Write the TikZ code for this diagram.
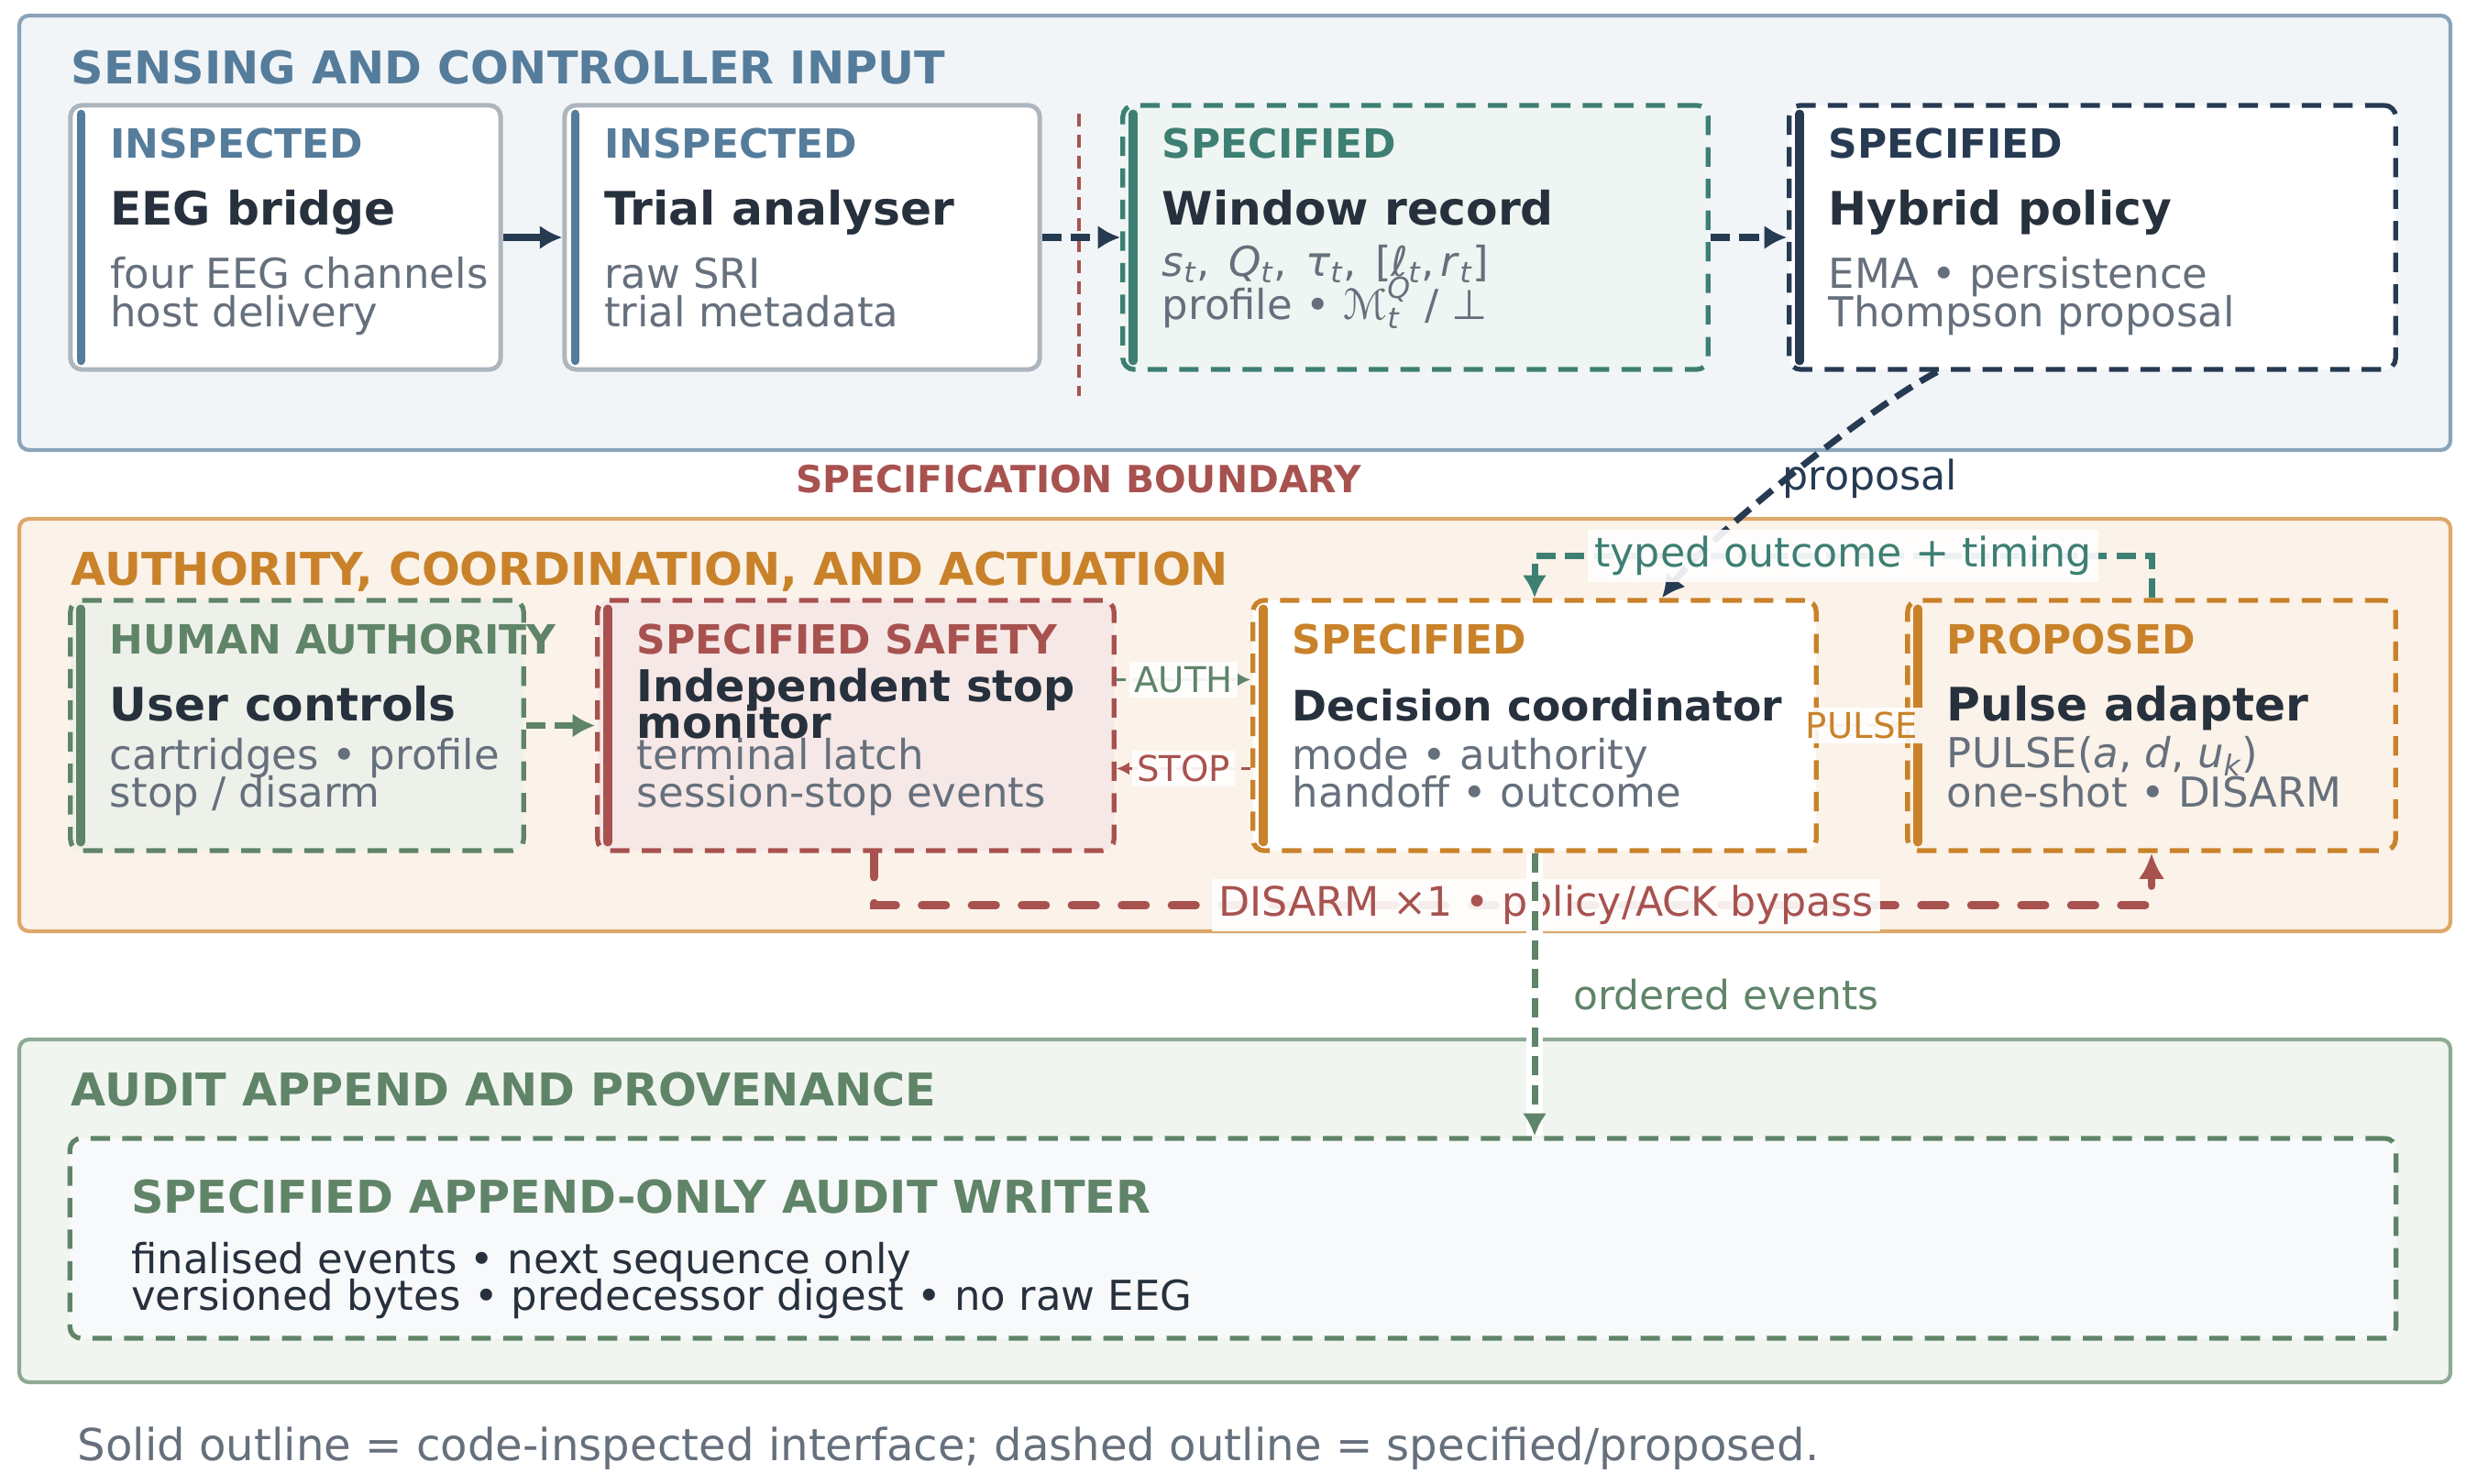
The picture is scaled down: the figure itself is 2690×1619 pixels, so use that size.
\documentclass[tikz,border=0pt]{standalone}
\usepackage{fontspec}
\setmainfont{DejaVu Sans}
\usepackage{amsmath, amssymb}
\usepackage{tikz}
\usetikzlibrary{
  positioning,
  calc,
  arrows.meta
}

\definecolor{sensecol}{HTML}{557C9B}
\definecolor{senseline}{HTML}{8AA4B9}
\definecolor{sensebg}{HTML}{F1F5F8}
\definecolor{inspgray}{HTML}{ADB5BD}
\definecolor{tealc}{HTML}{3E7F73}
\definecolor{tealbg}{HTML}{EEF5F2}
\definecolor{navyc}{HTML}{263A52}
\definecolor{inkc}{HTML}{27313D}
\definecolor{mutedc}{HTML}{66707C}
\definecolor{crimsonc}{HTML}{A8524F}
\definecolor{redbg}{HTML}{F6E8E6}
\definecolor{orangec}{HTML}{C98229}
\definecolor{orangeline}{HTML}{DDA86A}
\definecolor{orangebg}{HTML}{FBF2E9}
\definecolor{humangreen}{HTML}{5F8468}
\definecolor{greenbg}{HTML}{EEF1EA}
\definecolor{greenline}{HTML}{8FAA94}
\definecolor{auditbg}{HTML}{F1F5F0}
\definecolor{writerbg}{HTML}{F8F9FB}

\newcommand{\vsub}[1]{\textsubscript{\itshape #1}}

\tikzset{
  panel/.style={line width=1.2pt, rounded corners=3pt},
  insp/.style={draw=inspgray, fill=white, line width=1.4pt, rounded corners=3.5pt},
  spec/.style={line width=1.5pt, rounded corners=3.5pt, dash pattern=on 6pt off 3.8pt},
  bar/.style={line width=2.7pt, line cap=round},
  paneltitle/.style={font=\fontsize{14}{17}\selectfont\bfseries, anchor=base west, inner sep=0pt},
  tagtext/.style={font=\fontsize{12.5}{15}\selectfont\bfseries, anchor=base west, inner sep=0pt},
  titletext/.style={font=\fontsize{14.3}{12}\selectfont\bfseries, text=inkc, anchor=base west, inner sep=0pt},
  bodytext/.style={font=\fontsize{12.8}{12}\selectfont, text=mutedc, anchor=base west, inner sep=0pt},
  flow/.style={line width=2pt, -{Latex[length=7pt,width=7.5pt]}},
  dashflow/.style={flow, dash pattern=on 6pt off 3pt},
  thinflow/.style={line width=1.1pt, dash pattern=on 3pt off 2pt, -{Latex[length=4pt,width=4pt]}},
  disarm/.style={line width=2.5pt, crimsonc, line cap=round, dash pattern=on 7.5pt off 8pt, -{Latex[length=8pt,width=8pt]}},
  edgelabel/.style={font=\fontsize{12.6}{14}\selectfont, fill=white, fill opacity=0.9, text opacity=1, inner sep=2pt},
  smalllabel/.style={font=\fontsize{11}{13}\selectfont, fill=white, fill opacity=0.9, text opacity=1, inner sep=1.5pt}
}

\begin{document}
\begin{tikzpicture}[x=0.01cm, y=-0.01cm]
\fill[white] (0,0) rectangle (2690,1619);
\useasboundingbox (0,0) rectangle (2690,1619);

% sensing panel
\draw[panel, draw=senseline, fill=sensebg] (21,17) rectangle (2673,491);
\node[paneltitle, text=sensecol] (sensetitle) at (77,92) {SENSING AND CONTROLLER INPUT};

\node[insp, minimum width=4.69cm, minimum height=2.88cm] (eeg) at (311.5,259) {};
\draw[bar, sensecol] ([shift={(14,12)}]eeg.north west) -- ([shift={(14,-12)}]eeg.south west);
\node[tagtext, text=sensecol] (eegtag) at ([shift={(45,60)}]eeg.north west) {INSPECTED};
\node[titletext] (eegname) at ([shift={(45,133)}]eeg.north west) {EEG bridge};
\node[bodytext] (eegl1) at ([shift={(45,202)}]eeg.north west) {four EEG channels};
\node[bodytext] (eegl2) at ([shift={(45,244)}]eeg.north west) {host delivery};

\node[insp, minimum width=5.18cm, minimum height=2.88cm] (trial) at (875,259) {};
\draw[bar, sensecol] ([shift={(14,12)}]trial.north west) -- ([shift={(14,-12)}]trial.south west);
\node[tagtext, text=sensecol] (trialtag) at ([shift={(45,60)}]trial.north west) {INSPECTED};
\node[titletext] (trialname) at ([shift={(45,133)}]trial.north west) {Trial analyser};
\node[bodytext] (triall1) at ([shift={(45,202)}]trial.north west) {raw SRI};
\node[bodytext] (triall2) at ([shift={(45,244)}]trial.north west) {trial metadata};

\node[spec, draw=tealc, fill=tealbg, minimum width=6.38cm, minimum height=2.88cm] (window) at (1544,259) {};
\draw[bar, tealc] ([shift={(14,12)}]window.north west) -- ([shift={(14,-12)}]window.south west);
\node[tagtext, text=tealc] (windowtag) at ([shift={(45,60)}]window.north west) {SPECIFIED};
\node[titletext] (windowname) at ([shift={(45,133)}]window.north west) {Window record};
\node[bodytext] (windowl1) at ([shift={(45,189)}]window.north west) {\textit{s}\vsub{t},\hspace{0.45em}\textit{Q}\vsub{t},\hspace{0.45em}\textit{τ}\vsub{t},\hspace{0.45em}[\textit{ℓ}\vsub{t},\hspace{0.15em}\textit{r}\vsub{t}]};
\node[bodytext] (windowl2) at ([shift={(45,236)}]window.north west) {profile • $\textit{ℳ}_{\textit{t}}^{\textit{Q}}$ / ⊥};

\node[spec, draw=navyc, fill=white, minimum width=6.61cm, minimum height=2.88cm] (hybrid) at (2282.5,259) {};
\draw[bar, navyc] ([shift={(14,12)}]hybrid.north west) -- ([shift={(14,-12)}]hybrid.south west);
\node[tagtext, text=navyc] (hybridtag) at ([shift={(45,60)}]hybrid.north west) {SPECIFIED};
\node[titletext] (hybridname) at ([shift={(45,133)}]hybrid.north west) {Hybrid policy};
\node[bodytext] (hybridl1) at ([shift={(45,202)}]hybrid.north west) {EMA • persistence};
\node[bodytext] (hybridl2) at ([shift={(45,244)}]hybrid.north west) {Thompson proposal};

\draw[crimsonc, line width=1.3pt, dash pattern=on 4pt off 2.5pt] (1177,124) -- (1177,432);
\node[font=\fontsize{11.6}{14}\selectfont\bfseries, text=crimsonc] (boundary) at (1177,523) {SPECIFICATION BOUNDARY};

% authority panel
\draw[panel, draw=orangeline, fill=orangebg] (21,566) rectangle (2673,1016);
\node[paneltitle, text=orangec] (authtitle) at (77,639) {AUTHORITY, COORDINATION, AND ACTUATION};

\node[spec, draw=humangreen, fill=greenbg, minimum width=4.94cm, minimum height=2.73cm] (user) at (324,791.5) {};
\draw[bar, humangreen] ([shift={(14,12)}]user.north west) -- ([shift={(14,-12)}]user.south west);
\node[tagtext, text=humangreen] (usertag) at ([shift={(45,61)}]user.north west) {HUMAN AUTHORITY};
\node[titletext] (username) at ([shift={(45,134)}]user.north west) {User controls};
\node[bodytext] (userl1) at ([shift={(45,187)}]user.north west) {cartridges • profile};
\node[bodytext] (userl2) at ([shift={(45,228)}]user.north west) {stop / disarm};

\node[spec, draw=crimsonc, fill=redbg, minimum width=5.63cm, minimum height=2.73cm] (stop) at (933.5,791.5) {};
\draw[bar, crimsonc] ([shift={(14,12)}]stop.north west) -- ([shift={(14,-12)}]stop.south west);
\node[tagtext, text=crimsonc] (stoptag) at ([shift={(45,61)}]stop.north west) {SPECIFIED SAFETY};
\node[titletext, font=\fontsize{13.6}{12}\selectfont\bfseries] (stopname) at ([shift={(45,113)}]stop.north west) {Independent stop};
\node[titletext, font=\fontsize{13.6}{12}\selectfont\bfseries] (stopname2) at ([shift={(45,153)}]stop.north west) {monitor};
\node[bodytext] (stopl1) at ([shift={(45,187)}]stop.north west) {terminal latch};
\node[bodytext] (stopl2) at ([shift={(45,228)}]stop.north west) {session-stop events};

\node[spec, draw=orangec, fill=white, minimum width=6.14cm, minimum height=2.73cm] (dec) at (1674,791.5) {};
\draw[bar, orangec] ([shift={(14,12)}]dec.north west) -- ([shift={(14,-12)}]dec.south west);
\node[tagtext, text=orangec] (dectag) at ([shift={(45,61)}]dec.north west) {SPECIFIED};
\node[titletext, font=\fontsize{13}{12}\selectfont\bfseries] (decname) at ([shift={(45,134)}]dec.north west) {Decision coordinator};
\node[bodytext] (decl1) at ([shift={(45,187)}]dec.north west) {mode • authority};
\node[bodytext] (decl2) at ([shift={(45,228)}]dec.north west) {handoff • outcome};

\node[spec, draw=orangec, fill=orangebg, minimum width=5.32cm, minimum height=2.73cm] (pulse) at (2347,791.5) {};
\draw[bar, orangec] ([shift={(14,12)}]pulse.north west) -- ([shift={(14,-12)}]pulse.south west);
\node[tagtext, text=orangec] (pulsetag) at ([shift={(45,61)}]pulse.north west) {PROPOSED};
\node[titletext] (pulsename) at ([shift={(45,134)}]pulse.north west) {Pulse adapter};
\node[bodytext] (pulsel1) at ([shift={(45,185)}]pulse.north west) {PULSE(\textit{a}, \textit{d}, \textit{u}\vsub{k})};
\node[bodytext] (pulsel2) at ([shift={(45,228)}]pulse.north west) {one-shot • DISARM};

% audit panel
\draw[panel, draw=greenline, fill=auditbg] (21,1134) rectangle (2673,1508);
\node[paneltitle, text=humangreen] (audittitle) at (77,1206) {AUDIT APPEND AND PROVENANCE};

\node[spec, draw=humangreen, fill=writerbg, minimum width=25.36cm, minimum height=2.18cm] (audit) at (1345,1351) {};
\node[paneltitle, text=humangreen] (audittag) at ([shift={(69,84)}]audit.north west) {SPECIFIED APPEND-ONLY AUDIT WRITER};
\node[bodytext, text=inkc] (auditl1) at ([shift={(69,150)}]audit.north west) {finalised events • next sequence only};
\node[bodytext, text=inkc] (auditl2) at ([shift={(69,190)}]audit.north west) {versioned bytes • predecessor digest • no raw EEG};

\node[font=\fontsize{13.7}{15}\selectfont, text=mutedc, anchor=base west, inner sep=0pt] (legend) at (84,1593) {Solid outline = code-inspected interface; dashed outline = specified/proposed.};

% connectors
\draw[flow, navyc] (eeg) -- (trial);
\draw[dashflow, navyc] (trial) -- (window);
\draw[dashflow, navyc] (window) -- (hybrid);
\draw[dashflow, navyc] ([shift={(-169.5,0)}]hybrid.south) .. controls (2030,450) and (1860,590) .. ([shift={(139,0)}]dec.north)
  node[pos=0.5, anchor=west, xshift=-0.2cm, font=\fontsize{12.6}{14}\selectfont, text=navyc] {proposal};
\draw[dashflow, tealc] (pulse.north) -- ++(0,-46) -| node[pos=0.25, edgelabel, text=tealc] {typed outcome + timing} (dec.north);

\draw[dashflow, humangreen] (user) -- (stop);
\draw[thinflow, humangreen] ([shift={(0,-50)}]stop.east) -- node[smalllabel, text=humangreen] {AUTH} ([shift={(0,-50)}]dec.west);
\draw[thinflow, crimsonc] ([shift={(0,47)}]dec.west) -- node[smalllabel, text=crimsonc] {STOP} ([shift={(0,47)}]stop.east);
\draw[thinflow, orangec] (dec) -- node[smalllabel, text=orangec] {PULSE} (pulse);

\draw[disarm] ([shift={(20,0)}]stop.south) -- ++(0,57) -| node[pos=0.263, edgelabel, text=crimsonc] {DISARM ×1 • policy/ACK bypass} (pulse.south);

\draw[white, line width=5pt] (dec.south) -- (dec.south |- audit.north);
\draw[dashflow, humangreen] (dec.south) -- (dec.south |- audit.north)
  node[pos=0.5, right=0.27cm, font=\fontsize{12.5}{14}\selectfont, text=humangreen] {ordered events};
\end{tikzpicture}
\end{document}
